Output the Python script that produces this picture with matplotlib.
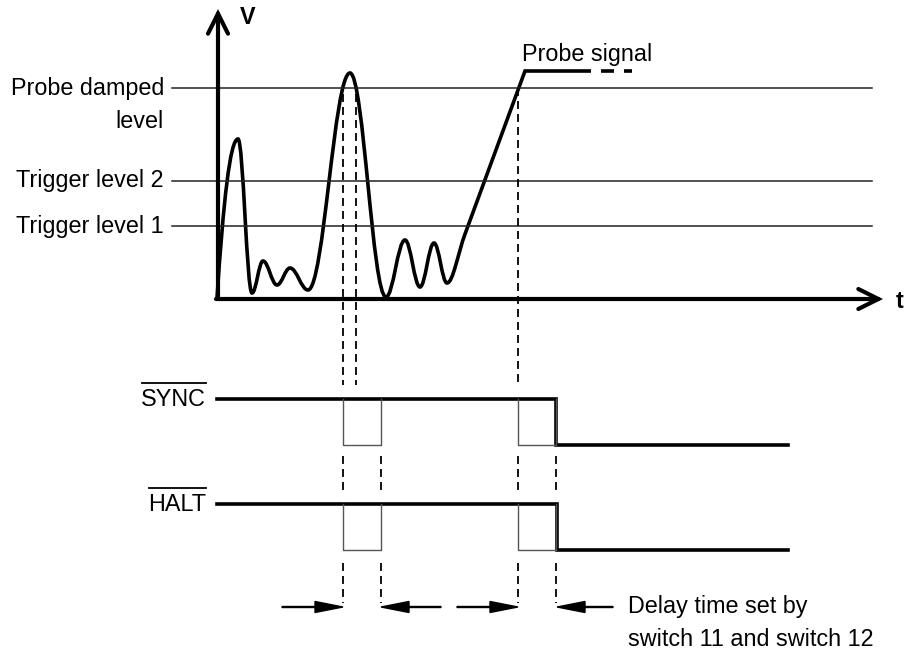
import matplotlib
matplotlib.use("Agg")
import matplotlib.pyplot as plt
from matplotlib.path import Path
from matplotlib.patches import PathPatch

plt.rcParams['font.family'] = ['Liberation Sans', 'DejaVu Sans']

# diagram units: t to the right of the V axis, v above the t axis
level_names = ['Probe damped\nlevel', 'Trigger level 2', 'Trigger level 1']
level_v = [210, 117, 72]

# extrema of the probe waveform (t, v)
wave_t = [0, 21, 35, 46, 60, 73, 91, 133, 169, 188, 203, 217, 230]
wave_v = [0, 159, 5, 37, 13, 30, 8, 225, 1, 58, 11, 55, 15]
ramp_t = [230, 308, 374]
ramp_v = [15, 227, 227]
tail_dash_t = [374, 415]

# digital signals
signal_names = ['SYNC', 'HALT']
signal_high = [-101, -206]
signal_low = [-147, -252]
signal_fall = [339, 340]
pulse_start = [126, 301]
pulse_end = [164, 339]
signal_end = 571

# dashed markers
peak_cross_t = [126, 139, 301]
marker_t = [126, 164, 301, 339]
arrow_from = [65, 224, 240, 396]
arrow_to = [126, 164, 301, 340]
arrow_v = -309

fig = plt.figure(figsize=(9.1, 6.5), dpi=100)
ax = fig.add_axes([0, 0, 1, 1])
ax.set_xlim(-217, 693)
ax.set_ylim(-352, 298)
ax.axis('off')

fs = 16.8

# axes with open arrowheads
axis_style = dict(arrowstyle='->,head_length=0.72,head_width=0.36',
                  lw=3.0, color='black', mutation_scale=20,
                  shrinkA=0, shrinkB=0, joinstyle='miter')
ax.annotate('', xy=(1, 289), xytext=(1, -1), arrowprops=axis_style)
ax.annotate('', xy=(666, -1), xytext=(-1, -1), arrowprops=axis_style)
ax.text(31, 280, 'V', fontsize=fs, fontweight='bold', va='center', ha='center')
ax.text(683, -4, 't', fontsize=fs, fontweight='bold', va='center', ha='center')

# reference levels
for name, v in zip(level_names, level_v):
    ax.plot([-45, 655], [v, v], color='#222222', lw=1.1)
    lines = name.split('\n')
    for j, line in enumerate(lines):
        ax.text(-53, v - 34 * j, line, fontsize=fs, ha='right', va='center')

# probe waveform: smooth curve through the extrema
k = 0.38
verts = [(wave_t[0], wave_v[0])]
codes = [Path.MOVETO]
dt = wave_t[1] - wave_t[0]
verts += [(wave_t[0] + dt * 0.3, wave_v[1] * 0.6),
          (wave_t[1] - dt * k, wave_v[1]), (wave_t[1], wave_v[1])]
codes += [Path.CURVE4] * 3
for i in range(1, len(wave_t) - 1):
    dt = wave_t[i + 1] - wave_t[i]
    verts += [(wave_t[i] + dt * k, wave_v[i]),
              (wave_t[i + 1] - dt * k, wave_v[i + 1]),
              (wave_t[i + 1], wave_v[i + 1])]
    codes += [Path.CURVE4] * 3
# rounded start of the ramp, then straight rise and flat top
slope = (ramp_v[1] - ramp_v[0]) / (ramp_t[1] - ramp_t[0])
join_t = ramp_t[0] + 18
join_v = ramp_v[0] + 18 * slope
verts += [(ramp_t[0] + 6, ramp_v[0]), (join_t - 7, join_v - 7 * slope),
          (join_t, join_v)]
codes += [Path.CURVE4] * 3
verts += [(ramp_t[1], ramp_v[1]), (ramp_t[2], ramp_v[2])]
codes += [Path.LINETO] * 2
ax.add_patch(PathPatch(Path(verts, codes), fill=False, lw=2.6,
                       edgecolor='black', joinstyle='miter'))
ax.plot(tail_dash_t, [ramp_v[2]] * 2, color='black', lw=2.6,
        linestyle=(3.6, (3.6, 2.77)))
ax.text(305, 244, 'Probe signal', fontsize=fs, ha='left', va='center')

dash = (0, (4.4, 2.8))
# dashed lines from the level crossings down to SYNC
for t in peak_cross_t:
    top = level_v[0] - 6 if t != 301 else level_v[0]
    ax.plot([t, t], [top, -87], color='black', lw=1.3, linestyle=dash)

# SYNC and HALT
fig.canvas.draw()
renderer = fig.canvas.get_renderer()
inv = ax.transData.inverted()
for name, high, low, fall in zip(signal_names, signal_high, signal_low, signal_fall):
    ax.plot([0, fall, fall, signal_end], [high, high, low, low],
            color='black', lw=2.6, solid_joinstyle='miter')
    for a, b in zip(pulse_start, pulse_end):
        ax.plot([a, a, b, b], [high, low, low, high], color='#555555', lw=1.0)
    txt = ax.text(-11, high - 7, name, fontsize=fs, ha='right', va='baseline')
    bb = txt.get_window_extent(renderer)
    (x0, _), (x1, _) = inv.transform([(bb.x0, 0), (bb.x1, 0)])
    ax.plot([x0 + 1, x1], [high + 16, high + 16], color='black', lw=1.3)

for t in marker_t:
    ax.plot([t, t], [-158, -192], color='black', lw=1.3, linestyle=dash)
    ax.plot([t, t], [-265, -305], color='black', lw=1.3, linestyle=dash)

# timing arrows
for a, b in zip(arrow_from, arrow_to):
    ax.arrow(a, arrow_v, b - a, 0, width=1.0, head_width=11, head_length=28,
             length_includes_head=True, color='black')

ax.text(411, arrow_v, 'Delay time set by', fontsize=fs, ha='left', va='center')
ax.text(411, arrow_v - 33, 'switch 11 and switch 12', fontsize=fs,
        ha='left', va='center')

fig.savefig('out.png', dpi=100)
